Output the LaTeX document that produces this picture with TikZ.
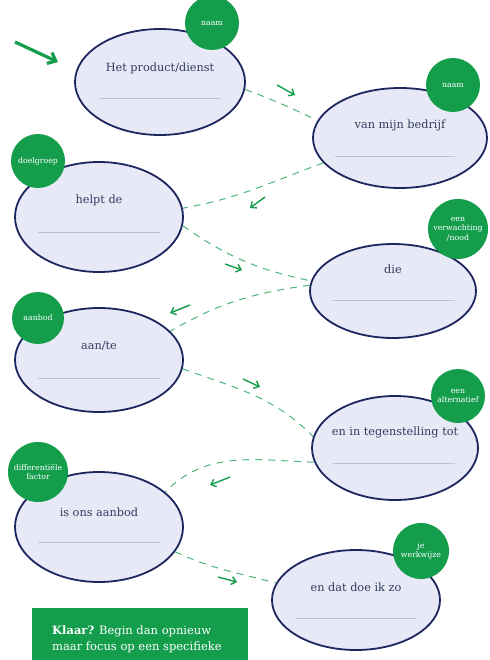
\documentclass[tikz,border=0pt]{standalone}
\usepackage{fontspec}
\setmainfont{DejaVu Serif}
\usetikzlibrary{shapes.geometric,arrows.meta}

\begin{document}
\begin{tikzpicture}[x=1pt,y=-1pt,
    bubble/.style={ellipse, draw=customnavy, line width=1.8pt, fill=customlilac,
        minimum width=168pt, minimum height=104pt, inner sep=0pt},
    tag/.style={circle, fill=customgreen, text=white, minimum size=54pt, inner sep=0pt,
        align=center, font=\fontsize{7.8}{9.5}\selectfont},
    phrase/.style={text=customslate, font=\fontsize{11.3}{13}\selectfont},
    fillin/.style={draw=customgrey, line width=0.6pt},
    link/.style={draw=customgreen!75, dash pattern=on 7pt off 6pt, line width=1pt},
    hint/.style={draw=customgreen, line width=1.4pt, -{Straight Barb[length=4.5pt,width=8pt]}}]
    % Define custom colors
    \definecolor{customgreen}{RGB}{20,158,76}
    \definecolor{customnavy}{RGB}{28,38,95}
    \definecolor{customlilac}{RGB}{231,233,246}
    \definecolor{customslate}{RGB}{50,60,95}
    \definecolor{customgrey}{RGB}{190,195,210}

    \useasboundingbox[fill=white] (0,0) rectangle (489,660);

    % Start arrow
    \coordinate (start) at (15,42);
    \coordinate (startend) at (58,62);
    \draw[customgreen, line width=3.2pt, -{Straight Barb[length=7pt,width=12pt]}] (start) -- (startend);

    % Het product/dienst (ellipse)
    \node[bubble, minimum width=170pt, minimum height=106pt] (prod) at (160,82) {};
    \node[phrase] (prodtxt) at (160,68) {Het product/dienst};
    \draw[fillin] (100,98) -- (220,98);

    % van mijn bedrijf (ellipse)
    \node[bubble, minimum width=174pt, minimum height=100pt] (firm) at (400,138) {};
    \node[phrase] (firmtxt) at (400,125) {van mijn bedrijf};
    \draw[fillin] (335,156) -- (455,156);

    % helpt de (ellipse)
    \node[bubble, minimum height=110pt] (help) at (99,217) {};
    \node[phrase] (helptxt) at (99,200) {helpt de};
    \draw[fillin] (38,232) -- (160,232);

    % die (ellipse)
    \node[bubble, minimum width=166pt, minimum height=94pt] (need) at (393,291) {};
    \node[phrase] (needtxt) at (393,269) {die};
    \draw[fillin] (333,300) -- (455,300);

    % aan/te (ellipse)
    \node[bubble] (offer) at (99,360) {};
    \node[phrase] (offertxt) at (99,346) {aan/te};
    \draw[fillin] (38,378) -- (160,378);

    % en in tegenstelling tot (ellipse)
    \node[bubble, minimum width=166pt] (alt) at (395,448) {};
    \node[phrase] (alttxt) at (395,432) {en in tegenstelling tot};
    \draw[fillin] (333,463) -- (455,463);

    % is ons aanbod (ellipse)
    \node[bubble, minimum height=110pt] (ours) at (99,527) {};
    \node[phrase] (ourstxt) at (99,512) {is ons aanbod};
    \draw[fillin] (38,542) -- (160,542);

    % en dat doe ik zo (ellipse)
    \node[bubble, minimum height=100pt] (way) at (356,600) {};
    \node[phrase] (waytxt) at (356,587) {en dat doe ik zo};
    \draw[fillin] (296,618) -- (417,618);

    % Dashed links
    \draw[link] (prod.-5) to[out=-20,in=155] (firm.168);
    \draw[link] (firm.-162) to[out=200,in=10] (help.6);
    \draw[link] (help.-6) to[out=-35,in=168] (need.173);
    \draw[link] (need.176) to[out=188,in=30] (offer.22);
    \draw[link] (offer.-6) to[out=-20,in=135] (alt.172);
    \draw[link] (alt.-170) to[out=178,in=45] (ours.28);
    \draw[link] (ours.-18) to[out=-25,in=165] (way.168);

    % Small arrows
    \coordinate (h1a) at (277,85);  \coordinate (h1b) at (295,95);
    \coordinate (h2a) at (265,197); \coordinate (h2b) at (250,208);
    \coordinate (h3a) at (225,264); \coordinate (h3b) at (242,270);
    \coordinate (h4a) at (190,305); \coordinate (h4b) at (170,313);
    \coordinate (h5a) at (243,379); \coordinate (h5b) at (260,387);
    \coordinate (h6a) at (230,477); \coordinate (h6b) at (210,485);
    \coordinate (h7a) at (218,577); \coordinate (h7b) at (237,582);
    \draw[hint] (h1a) -- (h1b);
    \draw[hint] (h2a) -- (h2b);
    \draw[hint] (h3a) -- (h3b);
    \draw[hint] (h4a) -- (h4b);
    \draw[hint] (h5a) -- (h5b);
    \draw[hint] (h6a) -- (h6b);
    \draw[hint] (h7a) -- (h7b);

    % Green tags
    \node[tag] (prodtag) at (212,23) {naam};
    \node[tag] (firmtag) at (453,85) {naam};
    \node[tag] (helptag) at (38,161) {doelgroep};
    \node[tag, minimum size=60pt] (needtag) at (458,229) {een\\verwachting\\/nood};
    \node[tag, minimum size=52pt] (offertag) at (38,318) {aanbod};
    \node[tag] (alttag) at (458,396) {een\\alternatief};
    \node[tag, minimum size=60pt] (ourstag) at (38,472) {differentiële\\factor};
    \node[tag, minimum size=56pt] (waytag) at (421,551) {je\\werkwijze};

    % Closing box
    \fill[customgreen] (32,608) rectangle (248,670);
    \node[anchor=north west, text=white, align=left, inner sep=0pt,
        font=\fontsize{11.5}{16}\selectfont] (ready) at (52,626)
        {\textbf{Klaar?} Begin dan opnieuw\\maar focus op een specifieke};
\end{tikzpicture}
\end{document}
